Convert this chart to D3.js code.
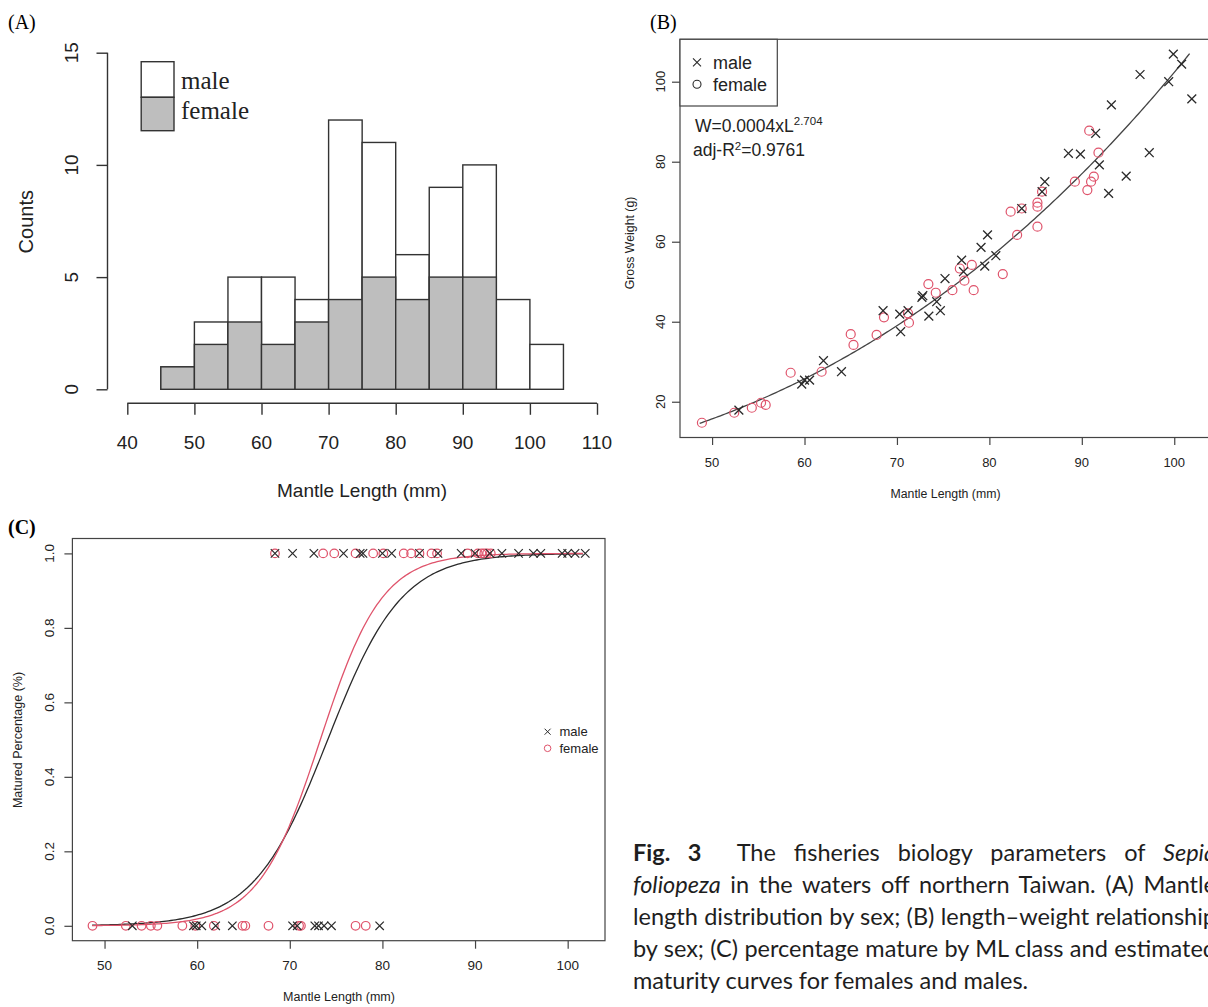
<!DOCTYPE html>
<html><head><meta charset="utf-8">
<script src="https://cdn.jsdelivr.net/npm/d3@7"></script>
<style>
body{margin:0;background:#fff;width:1208px;height:1007px;overflow:hidden;position:relative;}
svg{position:absolute;left:0;top:0;}
.cap{position:absolute;left:633px;top:836px;width:600px;font-family:Lato,'Open Sans',sans-serif;font-size:23.5px;color:#1e1e1e;}
.cap div{height:32px;line-height:32px;white-space:pre;}
.cap span.j{display:inline-block;white-space:pre;}
</style></head>
<body>
<svg id="fig" width="1208" height="1007"></svg>
<div class="cap">
<div><span class="j"><b>Fig. 3</b>  The fisheries biology parameters of <i>Sepia</i></span></div>
<div><span class="j"><i>foliopeza</i> in the waters off northern Taiwan. (A) Mantle</span></div>
<div><span class="j">length distribution by sex; (B) length–weight relationship</span></div>
<div><span class="j">by sex; (C) percentage mature by ML class and estimated</span></div>
<div><span>maturity curves for females and males.</span></div>
</div>
<script>
// ---------- Panel A: histogram ----------
const histBinStart = [45,50,55,60,65,70,75,80,85,90,95,100];
const histBinWidth = 5;
const histTotal  = [1,3,5,5,4,12,11,6,9,10,4,2];
const histFemale = [1,2,3,2,3,4,5,4,5,5,0,0];
const histXTicks = [40,50,60,70,80,90,100,110];
const histYTicks = [0,5,10,15];

// ---------- Panel B: length-weight ----------
const maleML = [52.9,59.7,60.0,60.55,62.05,64.0,68.5,70.3,70.4,71.2,72.7,72.8,73.45,74.3,74.7,75.2,77.0,77.2,79.1,79.5,79.8,80.7,83.5,85.7,86.0,88.55,89.85,91.5,91.9,92.9,93.2,94.8,96.3,97.3,99.4,99.9,100.8,101.9];
const maleGW = [17.9,24.4,25.4,25.4,30.25,27.5,42.75,41.9,37.5,42.75,46.1,46.5,41.4,45.0,42.75,50.8,55.4,52.5,58.6,53.9,61.7,56.5,68.3,72.5,75.0,82.1,81.9,87.1,79.2,72.1,94.2,76.4,101.8,82.25,100.0,106.9,104.4,95.7];
const femaleML = [48.9,52.4,54.3,55.3,55.8,58.5,61.85,65.0,65.3,67.8,68.6,71.2,71.3,73.4,74.2,76.0,76.8,77.3,78.1,78.3,81.45,82.3,83.0,83.5,85.2,85.2,85.2,85.7,89.25,90.6,91.0,91.3,90.8,91.8];
const femaleGW = [14.75,17.25,18.5,19.75,19.2,27.25,27.5,36.9,34.2,36.7,41.1,42.1,39.75,49.4,47.25,47.9,53.3,50.25,54.2,47.9,51.9,67.5,61.7,68.3,69.75,68.75,63.75,72.5,75.0,72.9,75.0,76.25,87.75,82.25];
const lwA = 0.0004, lwB = 2.704;
const lwXTicks = [50,60,70,80,90,100];
const lwYTicks = [20,40,60,80,100];

// ---------- Panel C: maturity ----------
const maleMatureML     = [68.4,70.3,72.6,75.8,77.6,77.9,80.0,81.0,84.0,86.0,88.5,90.0,91.6,92.9,94.7,96.3,97.1,99.4,100.0,100.8,101.9];
const femaleMatureML   = [68.4,73.6,74.8,77.1,79.0,80.1,82.3,83.1,84.0,85.3,85.9,89.2,90.3,90.7,91.0,91.3,91.7];
const maleImmatureML   = [53.0,59.6,59.9,60.5,62.0,63.8,70.3,70.8,72.7,73.1,73.7,74.5,79.7];
const femaleImmatureML = [48.7,52.3,54.0,55.0,55.7,58.4,59.8,61.8,64.9,65.2,67.7,71.0,71.2,77.1,78.2];
const maleL50 = 74.1, maleSlope = 0.25;
const femaleL50 = 73.3, femaleSlope = 0.30;
const matXTicks = [50,60,70,80,90,100];
const matYTicks = [0,0.2,0.4,0.6,0.8,1.0];

const PINK = "#DF536B", DARK = "#2a2a2a", AX = "#333";
const SANS = "'Liberation Sans', Arial, sans-serif";
const SERIF = "'Liberation Serif', 'Times New Roman', serif";

const svg = d3.select("#fig");

function cross(g, x, y, h, color, w){
  g.append("path").attr("d",`M${x-h},${y-h}L${x+h},${y+h}M${x-h},${y+h}L${x+h},${y-h}`)
   .attr("stroke",color).attr("stroke-width",w).attr("fill","none");
}

// ===== Panel labels =====
svg.append("text").attr("x",8).attr("y",29).attr("font-family",SERIF).attr("font-size",20).text("(A)");
svg.append("text").attr("x",650).attr("y",29).attr("font-family",SERIF).attr("font-size",20).text("(B)");
svg.append("text").attr("x",8).attr("y",534).attr("font-family",SERIF).attr("font-size",20).attr("font-weight","bold").text("(C)");

// ===== Panel A =====
(function(){
  const g = svg.append("g");
  const x = d3.scaleLinear([40,110],[127.3,597]);
  const y = d3.scaleLinear([0,15],[389.3,52.7]);
  const bars = histBinStart.map((s,i)=>({s,t:histTotal[i],f:histFemale[i]}));
  g.selectAll("rect.t").data(bars).join("rect")
    .attr("x",d=>x(d.s)).attr("width",d=>x(d.s+histBinWidth)-x(d.s))
    .attr("y",d=>y(d.t)).attr("height",d=>y(0)-y(d.t))
    .attr("fill","#fff").attr("stroke",AX).attr("stroke-width",1.4);
  g.selectAll("rect.f").data(bars.filter(d=>d.f>0)).join("rect")
    .attr("x",d=>x(d.s)).attr("width",d=>x(d.s+histBinWidth)-x(d.s))
    .attr("y",d=>y(d.f)).attr("height",d=>y(0)-y(d.f))
    .attr("fill","#BEBEBE").attr("stroke",AX).attr("stroke-width",1.4);
  const ya = g.append("g").attr("transform","translate(107.5,0)")
    .call(d3.axisLeft(y).tickValues(histYTicks).tickSize(11).tickFormat(""));
  ya.select(".domain").remove();
  ya.selectAll("line").attr("stroke",AX).attr("stroke-width",1.4);
  g.append("line").attr("x1",107.5).attr("x2",107.5).attr("y1",y(histYTicks[0])).attr("y2",y(histYTicks[histYTicks.length-1])).attr("stroke",AX).attr("stroke-width",1.4);
  g.selectAll("text.yl").data(histYTicks).join("text")
    .attr("transform",d=>`translate(77.8,${y(d)}) rotate(-90)`).attr("text-anchor","middle")
    .attr("font-family",SANS).attr("font-size",19).attr("fill","#222").text(d=>d);
  const xa = g.append("g").attr("transform","translate(0,403.3)")
    .call(d3.axisBottom(x).tickValues(histXTicks).tickSize(11.5).tickFormat(""));
  xa.select(".domain").remove();
  xa.selectAll("line").attr("stroke",AX).attr("stroke-width",1.4);
  g.append("line").attr("y1",403.3).attr("y2",403.3).attr("x1",x(histXTicks[0])).attr("x2",x(histXTicks[histXTicks.length-1])).attr("stroke",AX).attr("stroke-width",1.4);
  g.selectAll("text.xl").data(histXTicks).join("text")
    .attr("x",d=>x(d)).attr("y",448.5).attr("text-anchor","middle")
    .attr("font-family",SANS).attr("font-size",19).attr("fill","#222").text(d=>d);
  g.append("text").attr("x",362).attr("y",497).attr("text-anchor","middle")
    .attr("font-family",SANS).attr("font-size",19).attr("fill","#222").text("Mantle Length (mm)");
  g.append("text").attr("transform","translate(33,221.7) rotate(-90)").attr("text-anchor","middle")
    .attr("font-family",SANS).attr("font-size",20).attr("fill","#222").text("Counts");
  g.append("rect").attr("x",141.2).attr("y",61.7).attr("width",32.8).attr("height",35.6).attr("fill","#fff").attr("stroke",AX).attr("stroke-width",1.4);
  g.append("rect").attr("x",141.2).attr("y",97.3).attr("width",32.8).attr("height",33.4).attr("fill","#BEBEBE").attr("stroke",AX).attr("stroke-width",1.4);
  g.append("text").attr("x",181).attr("y",89).attr("font-family",SERIF).attr("font-size",25).attr("fill","#222").text("male");
  g.append("text").attr("x",181).attr("y",119).attr("font-family",SERIF).attr("font-size",25).attr("fill","#222").text("female");
})();

// ===== Panel B =====
(function(){
  const g = svg.append("g");
  const x = d3.scaleLinear([46.53,104.03],[680,1211.5]);
  const y = d3.scaleLinear([11.06,110.6],[437.5,39.3]);
  const Ls = d3.range(48.66, 101.9+0.001, 0.25);
  g.append("path").datum(Ls).attr("fill","none").attr("stroke","#444").attr("stroke-width",1.3)
    .attr("d",d3.line().x(L=>x(L)).y(L=>y(lwA*Math.pow(L,lwB))));
  g.selectAll("circle.f").data(d3.zip(femaleML,femaleGW)).join("circle")
    .attr("cx",d=>x(d[0])).attr("cy",d=>y(d[1])).attr("r",4.5)
    .attr("fill","none").attr("stroke",PINK).attr("stroke-width",1.2);
  d3.zip(maleML,maleGW).forEach(d=>cross(g,x(d[0]),y(d[1]),4.4,DARK,1.3));
  g.append("rect").attr("x",680).attr("y",39.3).attr("width",531.5).attr("height",398.2)
    .attr("fill","none").attr("stroke","#444").attr("stroke-width",1.2);
  const xa = g.append("g").attr("transform","translate(0,437.5)")
    .call(d3.axisBottom(x).tickValues(lwXTicks).tickSize(7.5).tickFormat(""));
  xa.select(".domain").remove(); xa.selectAll("line").attr("stroke","#444").attr("stroke-width",1.2);
  const ya = g.append("g").attr("transform","translate(680,0)")
    .call(d3.axisLeft(y).tickValues(lwYTicks).tickSize(8).tickFormat(""));
  ya.select(".domain").remove(); ya.selectAll("line").attr("stroke","#444").attr("stroke-width",1.2);
  g.selectAll("text.xl").data(lwXTicks).join("text")
    .attr("x",d=>x(d)).attr("y",466.5).attr("text-anchor","middle")
    .attr("font-family",SANS).attr("font-size",13).attr("fill","#222").text(d=>d);
  g.selectAll("text.yl").data(lwYTicks).join("text")
    .attr("transform",d=>`translate(664.5,${y(d)}) rotate(-90)`).attr("text-anchor","middle")
    .attr("font-family",SANS).attr("font-size",13).attr("fill","#222").text(d=>d);
  g.append("text").attr("x",945.5).attr("y",497.5).attr("text-anchor","middle")
    .attr("font-family",SANS).attr("font-size",12.3).attr("fill","#222").text("Mantle Length (mm)");
  g.append("text").attr("transform","translate(633.5,243) rotate(-90)").attr("text-anchor","middle")
    .attr("font-family",SANS).attr("font-size",12.3).attr("fill","#222").text("Gross Weight (g)");
  g.append("rect").attr("x",680).attr("y",39.3).attr("width",97.3).attr("height",66.7)
    .attr("fill","#fff").attr("stroke","#444").attr("stroke-width",1.2);
  cross(g,697,62.3,4,DARK,1.1);
  g.append("circle").attr("cx",697).attr("cy",84.3).attr("r",4).attr("fill","none").attr("stroke",DARK).attr("stroke-width",1.1);
  g.append("text").attr("x",713).attr("y",68.8).attr("font-family",SANS).attr("font-size",18).attr("fill","#222").text("male");
  g.append("text").attr("x",713).attr("y",90.8).attr("font-family",SANS).attr("font-size",18).attr("fill","#222").text("female");
  const t1 = g.append("text").attr("x",695).attr("y",132).attr("font-family",SANS).attr("font-size",17.5).attr("fill","#222");
  t1.append("tspan").text("W=0.0004xL");
  t1.append("tspan").attr("dy",-7).attr("font-size",11.5).text("2.704");
  const t2 = g.append("text").attr("x",693).attr("y",155.5).attr("font-family",SANS).attr("font-size",17.5).attr("fill","#222");
  t2.append("tspan").text("adj-R");
  t2.append("tspan").attr("dy",-6).attr("font-size",11.5).text("2");
  t2.append("tspan").attr("dy",6).text("=0.9761");
})();

// ===== Panel C =====
(function(){
  const g = svg.append("g");
  const x = d3.scaleLinear([46.53,104.03],[72.4,605]);
  const y = d3.scaleLinear([-0.04,1.04],[940.7,538.5]);
  const logistic = (L,L50,s)=>1/(1+Math.exp(-s*(L-L50)));
  const Ls = d3.range(48.66, 101.9+0.001, 0.25);
  g.append("path").datum(Ls).attr("fill","none").attr("stroke",DARK).attr("stroke-width",1.3)
    .attr("d",d3.line().x(L=>x(L)).y(L=>y(logistic(L,maleL50,maleSlope))));
  g.append("path").datum(Ls).attr("fill","none").attr("stroke",PINK).attr("stroke-width",1.3)
    .attr("d",d3.line().x(L=>x(L)).y(L=>y(logistic(L,femaleL50,femaleSlope))));
  const fem = femaleMatureML.map(v=>[v,1]).concat(femaleImmatureML.map(v=>[v,0]));
  const mal = maleMatureML.map(v=>[v,1]).concat(maleImmatureML.map(v=>[v,0]));
  g.selectAll("circle.f").data(fem).join("circle")
    .attr("cx",d=>x(d[0])).attr("cy",d=>y(d[1])).attr("r",4.3)
    .attr("fill","none").attr("stroke",PINK).attr("stroke-width",1.2);
  mal.forEach(d=>cross(g,x(d[0]),y(d[1]),4.2,DARK,1.2));
  g.append("rect").attr("x",72.4).attr("y",538.5).attr("width",532.6).attr("height",402.2)
    .attr("fill","none").attr("stroke","#444").attr("stroke-width",1.2);
  const xa = g.append("g").attr("transform","translate(0,940.7)")
    .call(d3.axisBottom(x).tickValues(matXTicks).tickSize(8).tickFormat(""));
  xa.select(".domain").remove(); xa.selectAll("line").attr("stroke","#444").attr("stroke-width",1.2);
  const ya = g.append("g").attr("transform","translate(72.4,0)")
    .call(d3.axisLeft(y).tickValues(matYTicks).tickSize(8).tickFormat(""));
  ya.select(".domain").remove(); ya.selectAll("line").attr("stroke","#444").attr("stroke-width",1.2);
  g.selectAll("text.xl").data(matXTicks).join("text")
    .attr("x",d=>x(d)).attr("y",970).attr("text-anchor","middle")
    .attr("font-family",SANS).attr("font-size",13.5).attr("fill","#222").text(d=>d);
  g.selectAll("text.yl").data(matYTicks).join("text")
    .attr("transform",d=>`translate(54.3,${y(d)}) rotate(-90)`).attr("text-anchor","middle")
    .attr("font-family",SANS).attr("font-size",13.5).attr("fill","#222").text(d=>d.toFixed(1));
  g.append("text").attr("x",339).attr("y",1001).attr("text-anchor","middle")
    .attr("font-family",SANS).attr("font-size",12.5).attr("fill","#222").text("Mantle Length (mm)");
  g.append("text").attr("transform","translate(22.3,740) rotate(-90)").attr("text-anchor","middle")
    .attr("font-family",SANS).attr("font-size",12.5).attr("fill","#222").text("Matured Percentage (%)");
  cross(g,547.6,731.7,3,DARK,1);
  g.append("circle").attr("cx",547.6).attr("cy",748.3).attr("r",3.3).attr("fill","none").attr("stroke",PINK).attr("stroke-width",1);
  g.append("text").attr("x",559.5).attr("y",736.3).attr("font-family",SANS).attr("font-size",13).attr("fill","#222").text("male");
  g.append("text").attr("x",559.5).attr("y",753).attr("font-family",SANS).attr("font-size",13).attr("fill","#222").text("female");
})();

// ===== Caption: justify each line to the column width =====
const CAPTION_WIDTH = 583;
function fitCaption(){
  document.querySelectorAll('.cap span.j').forEach(el=>{
    el.style.wordSpacing = '0px';
    const w = el.getBoundingClientRect().width;
    const n = (el.textContent.match(/[ \u00a0]/g)||[]).length;
    if(n>0) el.style.wordSpacing = ((CAPTION_WIDTH - w)/n) + 'px';
  });
}
fitCaption();
if(document.fonts && document.fonts.ready) document.fonts.ready.then(fitCaption);
</script>
</body></html>
